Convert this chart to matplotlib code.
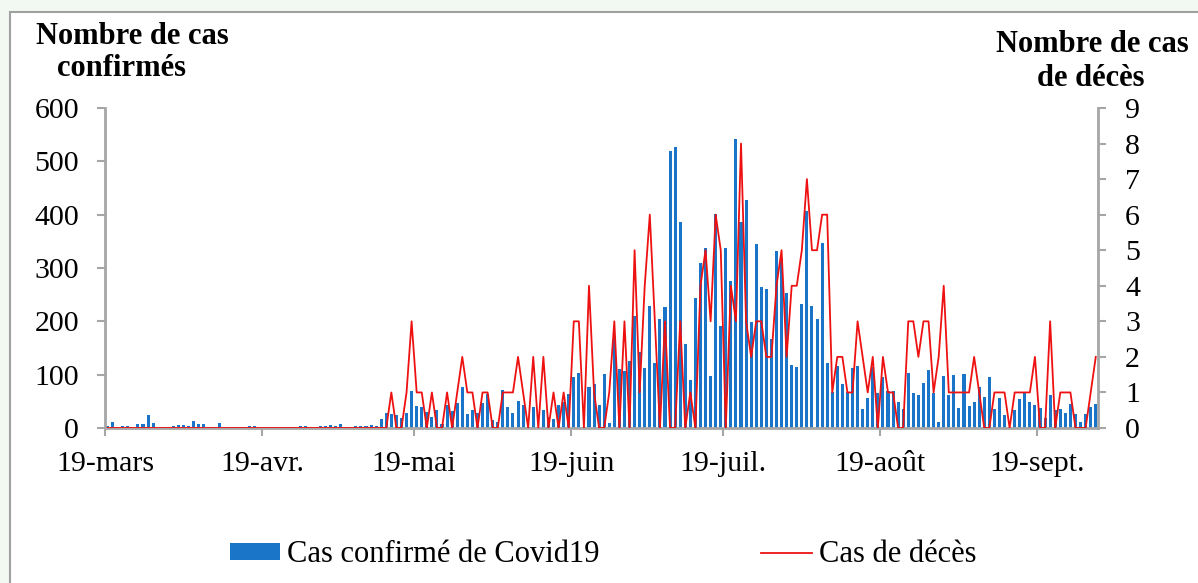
import numpy as np
import matplotlib
matplotlib.use("Agg")
import matplotlib.pyplot as plt
from matplotlib.patches import Patch, Rectangle
from matplotlib.lines import Line2D

# Daily confirmed cases (19 March -> 30 September)
cases = [3, 11, 0, 3, 3, 0, 8, 8, 24, 10,
         2, 0, 2, 4, 5, 5, 3, 13, 8, 7,
         0, 2, 10, 0, 0, 2, 2, 0, 4, 3,
         0, 0, 0, 0, 0, 0, 0, 2, 3, 3,
         0, 0, 3, 3, 6, 3, 7, 0, 0, 4,
         3, 4, 5, 3, 17, 28, 27, 25, 19, 28,
         69, 42, 39, 30, 21, 34, 8, 44, 32, 47,
         76, 27, 34, 29, 46, 64, 15, 12, 71, 39,
         29, 51, 44, 2, 39, 0, 34, 20, 17, 44,
         49, 63, 96, 104, 0, 76, 82, 44, 102, 9,
         171, 111, 107, 125, 210, 142, 113, 229, 122, 204,
         227, 519, 526, 386, 158, 90, 243, 309, 337, 97,
         402, 192, 337, 276, 541, 387, 428, 199, 345, 265,
         261, 167, 331, 318, 253, 119, 115, 233, 407, 228,
         205, 347, 121, 68, 116, 82, 68, 112, 117, 35,
         56, 115, 65, 95, 70, 70, 49, 35, 104, 65,
         61, 85, 109, 66, 11, 97, 61, 99, 37, 102,
         41, 49, 76, 59, 96, 35, 57, 24, 0, 33,
         54, 66, 48, 43, 37, 19, 61, 34, 35, 29,
         45, 26, 11, 26, 39, 45]

# Daily deaths
deaths = [0] * 56 + [
         1, 0, 0, 1, 3, 1, 1, 0, 1, 0,
         0, 1, 0, 1, 2, 1, 1, 0, 1, 1,
         0, 0, 1, 1, 1, 2, 1, 0, 2, 0,
         2, 0, 1, 0, 1, 0, 3, 3, 0, 4,
         1, 0, 0, 1, 3, 0, 3, 0, 5, 1,
         4, 6, 3, 0, 3, 0, 0, 3, 0, 1,
         0, 4, 5, 3, 6, 5, 0, 4, 3, 8,
         3, 2, 3, 3, 2, 2, 4, 5, 2, 4,
         4, 5, 7, 5, 5, 6, 6, 1, 2, 2,
         1, 1, 3, 2, 1, 2, 0, 2, 1, 1,
         0, 0, 3, 3, 2, 3, 3, 1, 2, 4,
         1, 1, 1, 1, 1, 2, 1, 0, 0, 1,
         1, 1, 0, 1, 1, 1, 1, 2, 0, 0,
         3, 0, 1, 1, 1, 0, 0, 0, 1, 2]

tick_days = [0, 31, 61, 92, 122, 153, 184]
tick_labels = ["19-mars", "19-avr.", "19-mai", "19-juin", "19-juil.", "19-août", "19-sept."]
left_ticks = [0, 100, 200, 300, 400, 500, 600]
right_ticks = [0, 1, 2, 3, 4, 5, 6, 7, 8, 9]

plt.rcParams["font.family"] = ["Liberation Serif", "DejaVu Serif"]

W, H = 1198, 583
fig = plt.figure(figsize=(W / 100, H / 100), dpi=100)
fig.patch.set_facecolor("#f2f8f2")
bg = Rectangle((10 / W, -0.01), 1.0, 1 - 12 / H + 0.01, transform=fig.transFigure,
               facecolor="white", edgecolor="#a0a0a0", linewidth=1.5, zorder=-10)
fig.patches.append(bg)

FS = 21.5
BLUE = "#1a75c9"
RED = "#ee1111"

ax = fig.add_axes([105 / W, 1 - 428 / H, (1098.3 - 105) / W, (428 - 108) / H])
ax.patch.set_alpha(0)
x = np.arange(len(cases))
ax.bar(x, cases, width=0.6, color=BLUE, zorder=2)
ax.set_xlim(-0.5, len(cases) - 0.5)
ax.set_ylim(0, 600)
ax.set_yticks(left_ticks)
ax.set_xticks([d - 0.5 for d in tick_days])
ax.set_xticklabels(tick_labels)

ax2 = ax.twinx()
ax2.plot(x, deaths, color=RED, linewidth=1.3, zorder=3)
ax2.set_ylim(0, 9)
ax2.set_yticks(right_ticks)

spine_col = "#a6a6a6"
for a in (ax, ax2):
    a.spines["top"].set_visible(False)
    for s in ("left", "right", "bottom"):
        a.spines[s].set_color(spine_col)
        a.spines[s].set_linewidth(2)
ax.spines["right"].set_visible(False)
ax2.spines["left"].set_visible(False)
ax2.spines["bottom"].set_visible(False)

ax.tick_params(axis="y", direction="out", length=5.8, width=1.5, color=spine_col,
               labelsize=FS, pad=13)
ax.tick_params(axis="x", direction="out", length=5.8, width=1.5, color=spine_col,
               labelsize=FS, pad=11)
ax2.tick_params(axis="y", direction="out", length=5.8, width=1.5, color=spine_col,
                labelsize=FS, pad=13.5)

fig.text(132 / W, 1 - 36 / H, "Nombre de cas", ha="center", va="center",
         fontsize=22, fontweight="bold")
fig.text(121 / W, 1 - 69 / H, "confirmés", ha="center", va="center",
         fontsize=22, fontweight="bold")
fig.text(1092 / W, 1 - 45 / H, "Nombre de cas", ha="center", va="center",
         fontsize=22, fontweight="bold")
fig.text(1091 / W, 1 - 78 / H, "de décès", ha="center", va="center",
         fontsize=22, fontweight="bold")

handles = [Patch(facecolor=BLUE, edgecolor="none"),
           Line2D([0], [0], color=RED, linewidth=1.3)]
fig.legend(handles, ["Cas confirmé de Covid19", "Cas de décès"],
           loc="center", bbox_to_anchor=(603 / W, 1 - 555 / H), ncol=2,
           frameon=False, fontsize=22, handlelength=1.65, handleheight=0.5,
           handletextpad=0.22, columnspacing=5.3)

fig.savefig("out.png", dpi=100, facecolor=fig.get_facecolor())
